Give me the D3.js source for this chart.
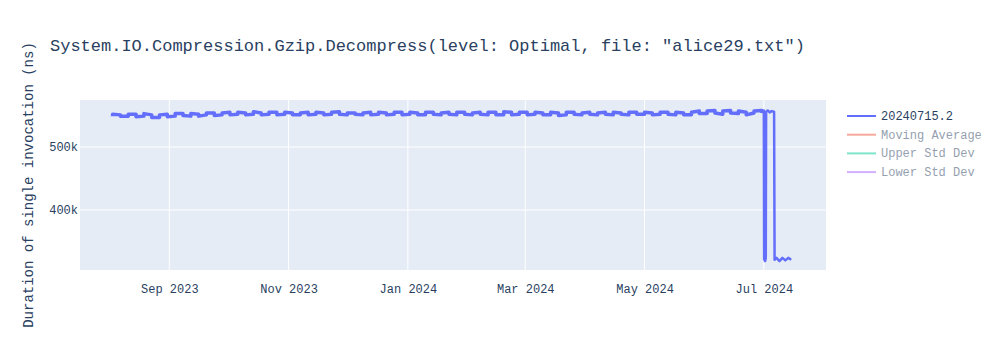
<!DOCTYPE html>
<html>
<head>
<meta charset="utf-8">
<script src="https://cdn.jsdelivr.net/npm/d3@7"></script>
<style>
  body { margin: 0; background: #fff; }
  svg text { font-family: "Liberation Mono", "Courier New", monospace; }
</style>
</head>
<body>
<div id="chart"></div>
<script>
// chart text
const title = 'System.IO.Compression.Gzip.Decompress(level: Optimal, file: "alice29.txt")';
const yTitle = "Duration of single invocation (ns)";
const legendNames = ["20240715.2", "Moving Average", "Upper Std Dev", "Lower Std Dev"];
const legendColors = ["#636efa", "#EF553B", "#00cc96", "#ab63fa"];
const yTicks = [400000, 500000];
const xTicks = ["2023-09-01", "2023-11-01", "2024-01-01", "2024-03-01", "2024-05-01", "2024-07-01"];

// runs every 4 days, low and high reading (in k ns)
const runDates = [
  "2023-08-03","2023-08-07","2023-08-11","2023-08-15","2023-08-19","2023-08-23","2023-08-27","2023-08-31",
  "2023-09-04","2023-09-08","2023-09-12","2023-09-16","2023-09-20","2023-09-24","2023-09-28",
  "2023-10-02","2023-10-06","2023-10-10","2023-10-14","2023-10-18","2023-10-22","2023-10-26","2023-10-30",
  "2023-11-03","2023-11-07","2023-11-11","2023-11-15","2023-11-19","2023-11-23","2023-11-27",
  "2023-12-01","2023-12-05","2023-12-09","2023-12-13","2023-12-17","2023-12-21","2023-12-25","2023-12-29",
  "2024-01-02","2024-01-06","2024-01-10","2024-01-14","2024-01-18","2024-01-22","2024-01-26","2024-01-30",
  "2024-02-03","2024-02-07","2024-02-11","2024-02-15","2024-02-19","2024-02-23","2024-02-27",
  "2024-03-02","2024-03-06","2024-03-10","2024-03-14","2024-03-18","2024-03-22","2024-03-26","2024-03-30",
  "2024-04-03","2024-04-07","2024-04-11","2024-04-15","2024-04-19","2024-04-23","2024-04-27",
  "2024-05-01","2024-05-05","2024-05-09","2024-05-13","2024-05-17","2024-05-21","2024-05-25","2024-05-29",
  "2024-06-02","2024-06-06","2024-06-10","2024-06-14","2024-06-18","2024-06-22","2024-06-26","2024-06-30"
];
const runLow = [
  549,549,549,548,549,547,547,548,
  549,550,549,549,551,550,551,
  551,552,551,552,551,552,551,552,
  551,551,551,552,551,552,552,
  551,552,551,551,552,551,552,551,
  552,551,551,552,551,552,551,552,
  551,552,551,551,551,551,552,
  551,552,551,551,550,551,552,551,
  552,551,552,551,552,551,552,
  552,551,552,552,551,551,551,553,
  553,554,552,554,553,551,554,554
];
const runHigh = [
  552,551,552,552,553,551,551,552,
  553,553,553,552,554,554,554,
  555,555,554,556,554,555,555,555,
  554,554,555,555,554,555,556,
  554,554,554,555,555,554,555,555,
  555,554,555,555,554,555,555,555,
  554,555,555,555,556,555,555,
  555,555,554,555,554,555,555,554,
  555,554,555,555,554,555,555,
  555,554,555,555,555,554,555,557,
  557,558,557,558,557,555,557,558
];
// the July runs where the time collapsed
const julyDates = [
  "2024-07-01T00:00","2024-07-01T04:00","2024-07-01T16:00","2024-07-02T00:00","2024-07-02T04:00",
  "2024-07-03T00:00","2024-07-04T00:00","2024-07-05T00:00","2024-07-06T06:00","2024-07-06T12:00",
  "2024-07-07T12:00","2024-07-09T00:00","2024-07-10T12:00","2024-07-12T00:00","2024-07-13T12:00","2024-07-15T00:00"
];
const julyValues = [558,322,319,324,556,558,555,557,556,321,324,319,324,320,324,321];

var width = 1000, height = 350;
var margin = {left: 80, right: 174, top: 100, bottom: 80};

const svg = d3.select("#chart").append("svg")
  .attr("width", width).attr("height", height);

var parse = d3.isoParse;
var bandPoints = [];
runDates.forEach(function(d, i) {
  // alternate the order so the trace draws a band like the dense original
  if (i % 2 == 0) {
    bandPoints.push({t: parse(d), v: runLow[i] * 1000});
    bandPoints.push({t: parse(d), v: runHigh[i] * 1000});
  } else {
    bandPoints.push({t: parse(d), v: runHigh[i] * 1000});
    bandPoints.push({t: parse(d), v: runLow[i] * 1000});
  }
});
var julyPoints = [bandPoints[bandPoints.length - 1]];
julyDates.forEach(function(d, i) { julyPoints.push({t: parse(d), v: julyValues[i] * 1000}); });

var xScale = d3.scaleTime()
  .domain([parse("2023-07-17T08:00"), parse("2024-08-01T19:00")])
  .range([margin.left, width - margin.right]);
var yScale = d3.scaleLinear()
  .domain([304800, 574600])
  .range([height - margin.bottom, margin.top]);

// plot background
svg.append("rect")
  .attr("x", margin.left).attr("y", margin.top)
  .attr("width", width - margin.left - margin.right)
  .attr("height", height - margin.top - margin.bottom)
  .attr("fill", "#E5ECF6");

// grid
svg.append("g").selectAll("line").data(xTicks).enter().append("line")
  .attr("x1", d => xScale(parse(d))).attr("x2", d => xScale(parse(d)))
  .attr("y1", margin.top).attr("y2", height - margin.bottom)
  .attr("stroke", "#fff").attr("stroke-width", 1);
svg.append("g").selectAll("line").data(yTicks).enter().append("line")
  .attr("x1", margin.left).attr("x2", width - margin.right)
  .attr("y1", d => yScale(d)).attr("y2", d => yScale(d))
  .attr("stroke", "#fff").attr("stroke-width", 1);

// axes (labels only, like plotly)
var xAxis = svg.append("g")
  .attr("transform", "translate(0," + (height - margin.bottom) + ")")
  .call(d3.axisBottom(xScale).tickValues(xTicks.map(parse)).tickFormat(d3.timeFormat("%b %Y")).tickSize(0).tickPadding(14));
var yAxis = svg.append("g")
  .attr("transform", "translate(" + margin.left + ",0)")
  .call(d3.axisLeft(yScale).tickValues(yTicks).tickFormat(d => (d / 1000) + "k").tickSize(0).tickPadding(2));
[xAxis, yAxis].forEach(function(a) {
  a.select(".domain").remove();
  a.selectAll("text").attr("fill", "#2a3f5f").style("font-size", "12px")
    .style("font-family", '"Liberation Mono", monospace');
});

// series line
var line = d3.line().x(d => xScale(d.t)).y(d => yScale(d.v));
svg.append("path")
  .datum(bandPoints)
  .attr("fill", "none")
  .attr("stroke", "#636efa")
  .attr("stroke-width", 3.5)
  .attr("stroke-linejoin", "round")
  .attr("d", line);
svg.append("path")
  .datum(julyPoints)
  .attr("fill", "none")
  .attr("stroke", "#636efa")
  .attr("stroke-width", 2.5)
  .attr("stroke-linejoin", "round")
  .attr("d", line);

// title
svg.append("text")
  .attr("x", 50).attr("y", 51)
  .attr("fill", "#2a3f5f")
  .style("font-size", "17px")
  .text(title);

// y title
svg.append("text")
  .attr("transform", "translate(33," + ((margin.top + height - margin.bottom) / 2) + ") rotate(-90)")
  .attr("text-anchor", "middle")
  .attr("fill", "#2a3f5f")
  .style("font-size", "14px")
  .text(yTitle);

// legend
var legend = svg.append("g").attr("transform", "translate(846,116)");
legendNames.forEach(function(name, i) {
  var g = legend.append("g")
    .attr("transform", "translate(0," + (i * 18.7) + ")")
    .style("opacity", i == 0 ? 1 : 0.5);
  g.append("line").attr("x1", 1).attr("x2", 30).attr("y1", 0).attr("y2", 0)
    .attr("stroke", legendColors[i]).attr("stroke-width", 2);
  g.append("text").attr("x", 35).attr("y", 4)
    .attr("fill", "#2a3f5f").style("font-size", "12px")
    .text(name);
});
</script>
</body>
</html>
